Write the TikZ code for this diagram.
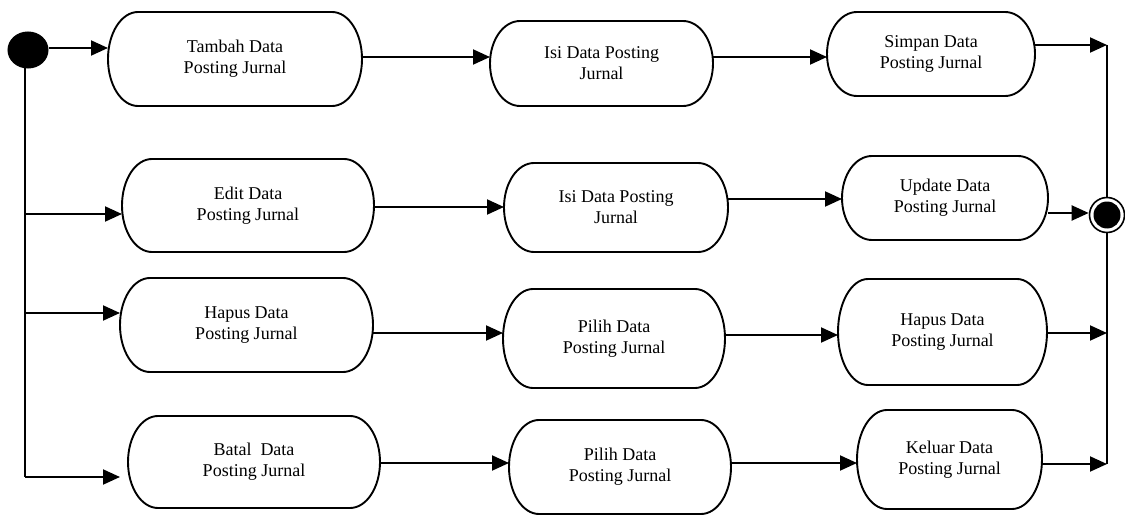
\documentclass[tikz,border=0pt]{standalone}
\usepackage{fontspec}
\setmainfont{Liberation Serif}
\usetikzlibrary{arrows.meta,shapes.geometric}
\tikzset{
  conn/.style={line width=2pt},
  flow/.style={conn,-{Triangle[length=17pt,width=15pt]}},
  boxline/.style={line width=1.9pt},
  stnode/.style={draw=none,inner sep=0pt,outer sep=0pt,align=center,
    font=\fontsize{18}{21}\selectfont},
}
\newcommand\stbox[6]{%
  \node[stnode,minimum width=#4pt,minimum height=#5pt] (#1) at (#2,#3) {#6};
  \draw[boxline] ([xshift=30pt]#1.north west) -- ([xshift=-30pt]#1.north east)
    arc[start angle=90,end angle=-90,x radius=30pt,y radius=#5pt/2]
    -- ([xshift=30pt]#1.south west)
    arc[start angle=270,end angle=90,x radius=30pt,y radius=#5pt/2] -- cycle;}
\begin{document}
\begin{tikzpicture}[x=1pt,y=-1pt]
\useasboundingbox (0,0) rectangle (1125,516);
% start and end
\node[ellipse,draw,fill=black,line width=1pt,minimum width=40pt,minimum height=36pt,inner sep=0pt] (S) at (28,50) {};
\node[circle,draw,fill=white,line width=1.6pt,minimum size=35pt,inner sep=0pt] (E) at (1107,215) {};
\fill (E.center) circle (13.5pt);
% activities
\stbox{B11}{235}{59}{254}{94}{Tambah Data\\Posting Jurnal}
\stbox{B12}{601.5}{63.5}{223}{85}{Isi Data Posting\\Jurnal}
\stbox{B13}{931}{54}{208}{84}{Simpan Data\\Posting Jurnal}
\stbox{B21}{248}{205.5}{252}{93}{Edit Data\\Posting Jurnal}
\stbox{B22}{616}{207.5}{224}{89}{Isi Data Posting\\Jurnal}
\stbox{B23}{945}{198}{206}{84}{Update Data\\Posting Jurnal}
\stbox{B31}{246.5}{325}{253}{94}{Hapus Data\\Posting Jurnal}
\stbox{B32}{614}{338.5}{222}{99}{Pilih Data\\Posting Jurnal}
\stbox{B33}{942.5}{332}{209}{106}{Hapus Data\\Posting Jurnal}
\stbox{B41}{254}{462}{252}{92}{Batal~ Data\\Posting Jurnal}
\stbox{B42}{620}{467}{222}{94}{Pilih Data\\Posting Jurnal}
\stbox{B43}{949.5}{459.5}{185}{99}{Keluar Data\\Posting Jurnal}
% junction coordinates
\coordinate (J) at (25,477);
\coordinate (R1) at (1107,45);
\coordinate (R4) at (1107,464);
% left fork
\draw[conn] (S.south -| J) -- (J);
\draw[flow] (S.east |- 0,48) -- (B11.west |- 0,48);
\draw[flow] (J |- 0,214) -- (B21.west |- 0,214);
\draw[flow] (J |- 0,313) -- (B31.west |- 0,313);
\draw[flow,shorten >=8pt] (J) -- (B41.west |- J);
% rows
\draw[flow] (B11.east |- 0,57) -- (B12.west |- 0,57);
\draw[flow] (B12.east |- 0,57) -- (B13.west |- 0,57);
\draw[flow] (B13.east |- R1) -- (R1);
\draw[flow] (B21.east |- 0,207) -- (B22.west |- 0,207);
\draw[flow] (B22.east |- 0,199) -- (B23.west |- 0,199);
\draw[flow] (B23.east |- 0,213) -- (E.west |- 0,213);
\draw[flow] (B31.east |- 0,333) -- (B32.west |- 0,333);
\draw[flow] (B32.east |- 0,335) -- (B33.west |- 0,335);
\draw[flow] (B33.east |- 0,333) -- (R1 |- 0,333);
\draw[flow] (B41.east |- 0,463) -- (B42.west |- 0,463);
\draw[flow] (B42.east |- 0,463) -- (B43.west |- 0,463);
\draw[flow] (B43.east |- R4) -- (R4);
% right join
\draw[conn] (R1) -- (E.north);
\draw[conn] (E.south) -- (R4);
\end{tikzpicture}
\end{document}
